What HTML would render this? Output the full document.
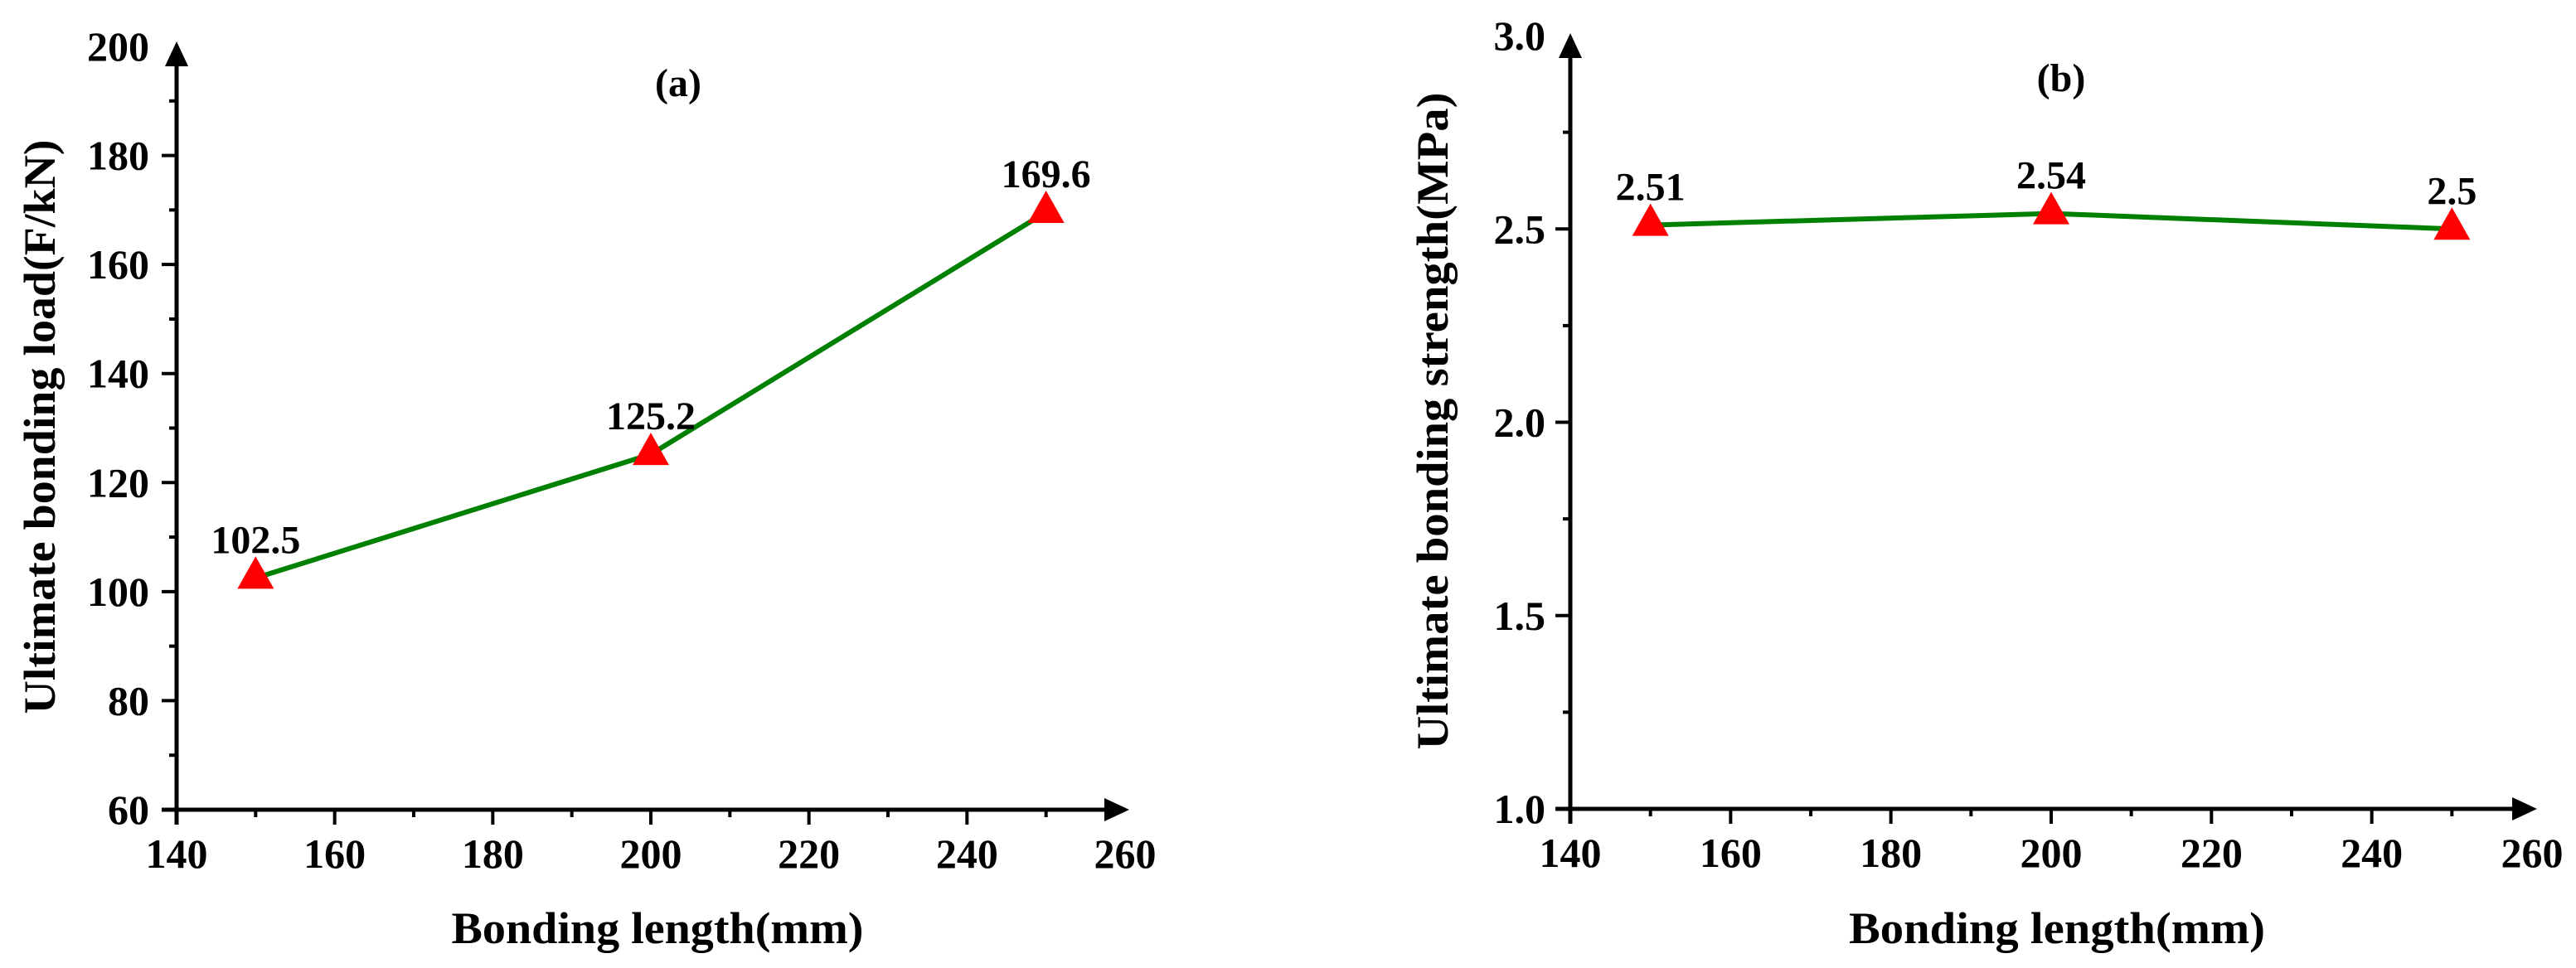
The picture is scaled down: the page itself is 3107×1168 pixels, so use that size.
<!DOCTYPE html>
<html><head><meta charset="utf-8">
<style>
html,body{margin:0;padding:0;background:#fff;}
svg{display:block;font-family:"Liberation Serif",serif;}
</style></head>
<body>
<svg id="fig" width="3107" height="1168" viewBox="0 0 3107 1168" xmlns="http://www.w3.org/2000/svg"></svg>
<script>
// Panel (a) data
const lengthsA = [150, 200, 250];
const loadValues = [102.5, 125.2, 169.6];
const loadLabels = ["102.5", "125.2", "169.6"];
const yTicksA = [60, 80, 100, 120, 140, 160, 180, 200];
const xTicks = [140, 160, 180, 200, 220, 240, 260];
// Panel (b) data
const lengthsB = [150, 200, 250];
const strengthValues = [2.51, 2.54, 2.5];
const strengthLabels = ["2.51", "2.54", "2.5"];
const yTicksB = [1.0, 1.5, 2.0, 2.5, 3.0];
const yTickLabelsB = ["1.0", "1.5", "2.0", "2.5", "3.0"];

const NS = "http://www.w3.org/2000/svg";
const svg = document.getElementById("fig");
function mk(tag, attrs, parent, text){
  const e = document.createElementNS(NS, tag);
  for (const k in attrs) e.setAttribute(k, attrs[k]);
  if (text !== undefined) e.textContent = text;
  (parent || svg).appendChild(e);
  return e;
}

function panel(cfg){
  const g = mk("g", {});
  
  
  const sx = v => cfg.x0 + (v - cfg.xmin) / (cfg.xmax - cfg.xmin) * (cfg.x1 - cfg.x0);
  const sy = v => cfg.y0 - (v - cfg.ymin) / (cfg.ymax - cfg.ymin) * (cfg.y0 - cfg.y1);
  const axX = sx(cfg.xmin), axY = sy(cfg.ymin);

  // y axis
  const ya = mk("line", {x1: axX, y1: axY + 18, x2: axX, y2: cfg.arrowTop + 25, stroke: "#000", "stroke-width": cfg.sw}, g);
  
  
  const yar = mk("polygon", {points: `${axX},${cfg.arrowTop} ${axX-14},${cfg.arrowTop+30} ${axX+14},${cfg.arrowTop+30}`, fill: "#000"}, g);
  
  
  // x axis
  const xa = mk("line", {x1: axX - 18, y1: axY, x2: cfg.arrowRight - 25, y2: axY, stroke: "#000", "stroke-width": cfg.sw}, g);
  
  
  const xar = mk("polygon", {points: `${cfg.arrowRight},${axY} ${cfg.arrowRight-30},${axY-14} ${cfg.arrowRight-30},${axY+14}`, fill: "#000"}, g);
  
  

  // y ticks
  cfg.yTicks.forEach((v, i) => {
    const y = sy(v);
    if (i > 0 && i < cfg.yTicks.length - 1) {
      const t = mk("line", {x1: axX - 18, y1: y, x2: axX, y2: y, stroke: "#000", "stroke-width": 4}, g);
      
      
    }
    if (i < cfg.yTicks.length - 1) {
      const m = sy(v + cfg.yStep / 2);
      const mt = mk("line", {x1: axX - 9, y1: m, x2: axX, y2: m, stroke: "#000", "stroke-width": 4}, g);
      
      
    }
    const lb = mk("text", {x: cfg.yLabelRight, y: y + 17, "text-anchor": "end", "font-size": cfg.tickFs, "font-weight": "bold"}, g, cfg.yTickLabels[i]);
    
    
  });
  // x ticks
  cfg.xTicks.forEach((v, i) => {
    const x = sx(v);
    if (i > 0 && i < cfg.xTicks.length - 1) {
      const t = mk("line", {x1: x, y1: axY, x2: x, y2: axY + 18, stroke: "#000", "stroke-width": 4}, g);
      
      
    }
    if (i < cfg.xTicks.length - 1) {
      const m = sx(v + 10);
      const mt = mk("line", {x1: m, y1: axY, x2: m, y2: axY + 9, stroke: "#000", "stroke-width": 4}, g);
      
      
    }
    const lb = mk("text", {x: x, y: axY + 70, "text-anchor": "middle", "font-size": cfg.tickFs, "font-weight": "bold"}, g, String(v));
    
    
  });

  // series line
  const pts = cfg.xs.map((x, i) => `${sx(x)},${sy(cfg.ys[i])}`).join(" ");
  const ln = mk("polyline", {points: pts, fill: "none", stroke: "#008000", "stroke-width": 6}, g);
  
  
  // markers + labels
  cfg.xs.forEach((x, i) => {
    const px = sx(x), py = sy(cfg.ys[i]);
    const tri = mk("polygon", {points: `${px},${py-26} ${px-22},${py+13} ${px+22},${py+13}`, fill: "#ff0000"}, g);
    
    
    const lb = mk("text", {x: px, y: py - 30, "text-anchor": "middle", "font-size": 48, "font-weight": "bold"}, g, cfg.labels[i]);
    
    
  });

  // panel title
  const pt = mk("text", {x: cfg.titleX, y: cfg.titleY, "text-anchor": "middle", "font-size": 48, "font-weight": "bold"}, g, cfg.title);
  
  
  // axis titles
  const xt = mk("text", {x: cfg.xTitleX, y: 1138, "text-anchor": "middle", "font-size": 54, "font-weight": "bold", textLength: cfg.xTitleLen, lengthAdjust: "spacingAndGlyphs"}, g, "Bonding length(mm)");
  
  
  const yt = mk("text", {x: 0, y: 0, "text-anchor": "middle", "font-size": 54, "font-weight": "bold", textLength: cfg.yTitleLen, lengthAdjust: "spacingAndGlyphs", transform: `translate(${cfg.yTitleX},${cfg.yTitleY}) rotate(-90)`}, g, cfg.yTitle);
  
  
}

panel({
  name: "panel-a-chart", x0: 213, x1: 1357, xmin: 140, xmax: 260,
  y0: 977, y1: 56, ymin: 60, ymax: 200, yStep: 20,
  arrowTop: 50, arrowRight: 1362, sw: 5,
  yTicks: yTicksA, yTickLabels: yTicksA.map(String), xTicks: xTicks,
  yLabelRight: 180, tickFs: 50,
  xs: lengthsA, ys: loadValues, labels: loadLabels,
  title: "(a)", titleX: 818, titleY: 116,
  xTitleX: 793, xTitleLen: 497,
  yTitle: "Ultimate bonding load(F/kN)", yTitleX: 66, yTitleY: 515, yTitleLen: 693
});
panel({
  name: "panel-b-chart", x0: 1894, x1: 3054, xmin: 140, xmax: 260,
  y0: 976, y1: 43, ymin: 1.0, ymax: 3.0, yStep: 0.5,
  arrowTop: 40, arrowRight: 3060, sw: 5,
  yTicks: yTicksB, yTickLabels: yTickLabelsB, xTicks: xTicks,
  yLabelRight: 1864, tickFs: 50,
  xs: lengthsB, ys: strengthValues, labels: strengthLabels,
  title: "(b)", titleX: 2486, titleY: 110,
  xTitleX: 2481, xTitleLen: 502,
  yTitle: "Ultimate bonding strength(MPa)", yTitleX: 1746, yTitleY: 508, yTitleLen: 793
});
</script>
</body></html>
